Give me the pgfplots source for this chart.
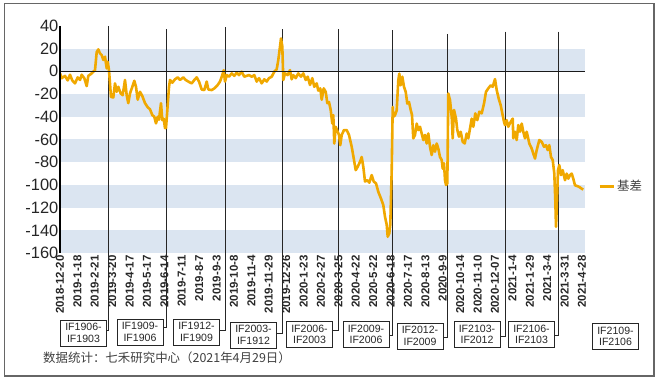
\documentclass[border=0pt]{standalone}
\usepackage{fontspec}
\setmainfont{Liberation Sans}
\newfontfamily\cjk{Noto Sans CJK SC}
\usepackage{pgfplots}
\usepackage{pgfplotstable}
\pgfplotsset{compat=1.18}
\definecolor{basis}{RGB}{240,168,0}
\definecolor{band}{RGB}{219,229,241}

\pgfplotstableread{
x y
0 -1.8
1.7 -6
5 -4
7.7 -8
10 -3
12.3 -8
15 -10.6
17.7 -5.3
20 -7.6
21.7 -3
24.3 -6
26.7 -13
28.3 -4
31 -2.3
33.3 -0.3
35 1
36.7 17
38.3 19.3
40 15.8
41.7 14.3
43.3 10
45 12.9
46.7 2.6
47.7 8.5
49 1
51 -22.5
53.3 -23
55 -10.6
56.7 -18
58.3 -13.6
60.7 -19.5
62.7 -21
65 -7.6
66.7 -21
68.3 -28
70 -19.5
72.3 -13.6
74.3 -8.3
76 -13.6
77.7 -25
80 -18
82.3 -21.7
85 -28
87.7 -31.6
90 -33.4
92.3 -38.5
94.3 -40
96 -45.8
97.7 -40
99 -42.5
101 -28
102.3 -43
103.7 -41.6
105 -50
106 -50
107 -38
109 -13.8
110 -7.6
112.3 -10
115 -7
117.7 -5.3
120 -7.6
123.3 -5.3
125.7 -7.6
128.3 -9
131.7 -10.6
134.3 -7.6
136.7 -5.3
139 -9
141.7 -16
144.3 -16.5
146.7 -9
148.3 -16
151.7 -16.5
154.3 -15
157.7 -12
160 -9
162.3 -3.3
163.7 1
165 -9
166.7 -3.3
169 -4.7
171.7 -1.8
174.3 -4
176.7 -1.2
179 -3.3
181.7 -0.3
184.3 -4.7
186.7 -4
189 -3.3
191.7 -4.7
194.3 -3.3
196.7 -9
199 -6
201.7 -10.6
204.3 -7
206.7 -9
209 -6
211.7 -4.7
214.3 -0.3
216.7 1.8
218.3 10
220 21.7
221 29
222.3 22
223.3 -7.6
225 -1.8
227.7 -3.3
230 1.1
231.7 -7
233.3 -3.3
235.7 -6
238.3 -1.8
241 -4.7
243.3 -1.8
245.7 -7.6
247.7 -4.7
250 -12
252.3 -6
254.3 -13.6
256.7 -10.6
258.3 -17
260.3 -15
261.7 -25
263.7 -15
265.7 -18
267.3 -28
269 -27
270.7 -34
272.3 -46
273.3 -38.5
274.3 -63.5
275.7 -48.8
277 -51.7
279 -56
280.3 -65
281.7 -56
284 -51.7
286.7 -51.7
289 -56
291.7 -66.4
294 -78
295.7 -87
297.7 -84
300 -79.6
301.7 -75.4
303.3 -84
305 -97
307.3 -95.8
309.3 -98
311.7 -91.3
313.7 -97
316 -98.6
318.3 -106
321 -112
323.3 -117.7
325 -128
326.7 -135
327.7 -145.6
329.3 -142.6
330.3 -135
331.7 -87
332.7 -31.4
333.3 -40
335 -38.7
336.7 -34.3
338.3 -7.9
339.3 -2
340.7 -12.3
342.3 -4.7
344 -13.6
345.7 -18
347.3 -28.4
349 -27
350.7 -34
352 -38.5
353.3 -59
355 -56
356.7 -46
358.3 -51.7
360 -48.8
361.7 -54.7
363.3 -60.5
365 -56
366.7 -63.5
368.3 -54.7
370 -66.4
371.7 -73.7
373.3 -65
375 -70.8
376.7 -63.5
378.3 -68
380 -75.4
381.7 -78
382.7 -85.6
384 -81
385 -95.7
386 -100
387.3 -98.8
388.3 -19.5
390 -25.3
391.7 -40
392.7 -59
394 -34
396 -41.6
397.3 -51.7
399 -57.5
400.7 -53.2
402.7 -62
404.7 -63.5
406.7 -54.7
408.3 -59
410 -50.4
411.7 -41.6
413.3 -48.8
415.3 -37
417.3 -43
419.3 -35.5
421.7 -37
424 -28.4
426 -18
428.3 -15
430.7 -12.3
432.7 -13.6
435 -6.8
436.7 -16.5
438.7 -24
440.7 -29.8
442.3 -37
444 -44.4
445 -47.3
446.7 -43
448.3 -48.8
450.7 -44.4
452.7 -41.6
453.3 -59
455 -53.2
456.7 -60.5
458.3 -47.3
460 -53.2
461.7 -46
463.3 -53.2
465 -59
466.7 -53.2
469.3 -63.5
471.7 -68
473.3 -72.4
475 -76.8
476.7 -69.3
479.3 -60.5
481.7 -62
484 -66.4
486 -65
487.7 -69.3
489.3 -65
491 -75.4
492.7 -78
494.3 -90
495.3 -113.3
496 -136.8
497 -113.3
498 -87
499.3 -82.5
501 -91.3
502.7 -87
505 -95.8
506.7 -90
508.3 -94.5
510 -91.3
511.7 -90
513.3 -94.5
515 -100.4
517.3 -101
519.3 -101.8
521.7 -103.3
523.3 -104
}\basisdata

\begin{document}
\begin{tikzpicture}
\begin{axis}[
  scale only axis,
  width=525bp, height=227.2bp,
  xmin=0, xmax=525, ymin=-160, ymax=40,
  clip=false,
  axis line style={draw=none},
  tick style={draw=none},
  xtick={0,17.4,34.8,52.2,69.6,87,104.4,121.8,139.2,156.6,174,191.4,208.8,226.2,243.6,261,278.4,295.8,313.2,330.6,348,365.4,382.8,400.2,417.6,435,452.4,469.8,487.2,504.6,522},
  xticklabels={2018-12-20,2019-1-18,2019-2-21,2019-3-20,2019-4-17,2019-5-17,2019-6-14,2019-7-11,2019-8-7,2019-9-3,2019-10-8,2019-11-4,2019-11-29,2019-12-26,2020-1-23,2020-2-27,2020-3-25,2020-4-22,2020-5-22,2020-6-18,2020-7-17,2020-8-13,2020-9-9,2020-10-14,2020-11-10,2020-12-07,2021-1-4,2021-1-29,2021-3-4,2021-3-31,2021-4-28},
  x tick label style={rotate=90, anchor=east, font=\bfseries\fontsize{11.5}{12}\selectfont, text=black!85, inner sep=2bp},
  ytick={-160,-140,-120,-100,-80,-60,-40,-20,0,20,40},
  yticklabels={-160,-140,-120,-100,-80,-60,-40,-20,0,20,40},
  y tick label style={font=\fontsize{16.5}{17}\selectfont, text=black!85, inner sep=1.5bp},
  legend style={at={(axis cs:538,-101)}, anchor=west, draw=none, fill=none,
    font=\cjk\fontsize{12.5}{13}\selectfont, text=black!75, inner sep=0pt},
  legend image code/.code={\draw[basis,line width=3bp] (0bp,0bp) -- (14bp,0bp);},
]
% background bands
\fill[band] (axis cs:0,0) rectangle (axis cs:525,20);
\fill[band] (axis cs:0,-40) rectangle (axis cs:525,-20);
\fill[band] (axis cs:0,-80) rectangle (axis cs:525,-60);
\fill[band] (axis cs:0,-120) rectangle (axis cs:525,-100);
\fill[band] (axis cs:0,-160) rectangle (axis cs:525,-140);
% contract roll lines with callouts
\draw[black!85,line width=1bp] (axis cs:49,40) -- (axis cs:49,-227.7) -- (axis cs:46,-227.7);
\draw[black!85,line width=1bp] (axis cs:106,37) -- (axis cs:106,-225.1) -- (axis cs:103,-225.1);
\draw[black!85,line width=1bp] (axis cs:165,39) -- (axis cs:165,-227.7) -- (axis cs:160,-227.7);
\draw[black!85,line width=1bp] (axis cs:222,37) -- (axis cs:222,-230.4) -- (axis cs:217,-230.4);
\draw[black!85,line width=1bp] (axis cs:278,37) -- (axis cs:278,-227.7) -- (axis cs:271,-227.7);
\draw[black!85,line width=1bp] (axis cs:332,36) -- (axis cs:332,-232.1) -- (axis cs:329,-232.1);
\draw[black!85,line width=1bp] (axis cs:387,33) -- (axis cs:387,-233.9) -- (axis cs:383,-233.9);
\draw[black!85,line width=1bp] (axis cs:445,35) -- (axis cs:445,-233) -- (axis cs:441,-233);
\draw[black!85,line width=1bp] (axis cs:498,35) -- (axis cs:498,-232.1) -- (axis cs:494,-232.1);

\addplot[basis, line width=2.6bp, line join=round, mark=none] table[x=x,y=y] {\basisdata};
\addlegendentry{基差}

% zero line and y axis
\draw[black!90,line width=1.1bp] (axis cs:0,0) -- (axis cs:525,0);
\draw[black,line width=2bp] (axis cs:0,40) -- (axis cs:0,-160);

% boxes
\tikzset{ctbox/.style={draw=black!85, fill=white, line width=0.8bp, minimum width=46bp, minimum height=26bp, inner sep=0pt, align=center, font=\fontsize{10.6}{11.5}\selectfont, text=black!85}}
\node[ctbox] at (axis cs:23.5,-230.4) {IF1906-\\IF1903};
\node[ctbox] at (axis cs:80,-229.5) {IF1909-\\IF1906};
\node[ctbox] at (axis cs:136.5,-229.5) {IF1912-\\IF1909};
\node[ctbox] at (axis cs:193.5,-232.1) {IF2003-\\IF1912};
\node[ctbox] at (axis cs:249.5,-231.7) {IF2006-\\IF2003};
\node[ctbox] at (axis cs:306,-231.3) {IF2009-\\IF2006};
\node[ctbox] at (axis cs:360,-233) {IF2012-\\IF2009};
\node[ctbox] at (axis cs:417,-231.7) {IF2103-\\IF2012};
\node[ctbox] at (axis cs:471.5,-231.7) {IF2106-\\IF2103};
\node[ctbox] at (axis cs:555.5,-233.5) {IF2109-\\IF2106};

% footnote
\node[anchor=west, font=\cjk\fontsize{12.5}{13}\selectfont, text=black!75, inner sep=0pt] at (axis cs:-17,-252.4) {数据统计：七禾研究中心（2021年4月29日）};

% outer frame and bounding box
\draw[black!60,line width=1.2bp] (axis cs:-55.5,59.7) rectangle (axis cs:594,-268.2);
\path (axis cs:-60,62.8) rectangle (axis cs:599,-271.7);
\end{axis}
\end{tikzpicture}
\end{document}
